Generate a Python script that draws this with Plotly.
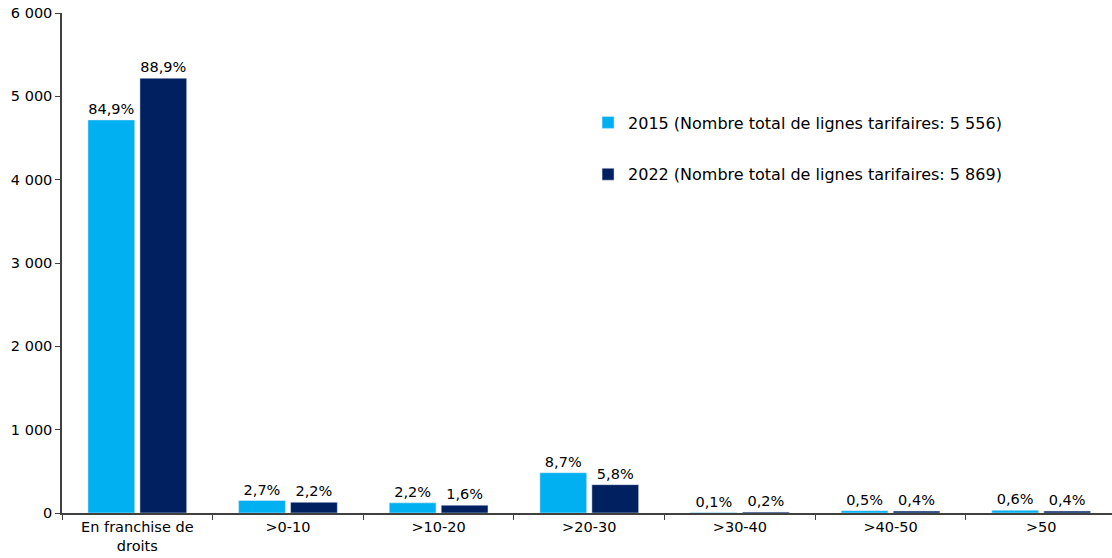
import plotly.graph_objects as go

categories = ["En franchise de<br>droits", ">0-10", ">10-20", ">20-30", ">30-40", ">40-50", ">50"]
series_names = ["2015 (Nombre total de lignes tarifaires: 5 556)",
                "2022 (Nombre total de lignes tarifaires: 5 869)"]
values_2015 = [4717, 150, 122, 483, 6, 28, 33]
values_2022 = [5218, 129, 94, 340, 12, 23, 23]
labels_2015 = ["84,9%", "2,7%", "2,2%", "8,7%", "0,1%", "0,5%", "0,6%"]
labels_2022 = ["88,9%", "2,2%", "1,6%", "5,8%", "0,2%", "0,4%", "0,4%"]
colors = ["#00B0F0", "#002060"]

FONT = "DejaVu Sans"
FS = 14.5

fig = go.Figure()
for name, vals, labs, col, grp in [
    (series_names[0], values_2015, labels_2015, colors[0], "a"),
    (series_names[1], values_2022, labels_2022, colors[1], "b"),
]:
    fig.add_trace(go.Bar(
        x=categories, y=vals, name=name, marker_color=col,
        text=labs, textposition="outside", cliponaxis=False,
        textfont=dict(family=FONT, size=FS, color="#000000"),
        legendgroup=grp,
    ))

fig.update_layout(
    width=1112, height=558,
    margin=dict(l=62, r=0, t=13, b=45),
    paper_bgcolor="white", plot_bgcolor="white",
    barmode="group", bargap=0.31, bargroupgap=0.1,
    separators=", ",
    font=dict(family=FONT, size=FS, color="#000000"),
    showlegend=True,
    legend=dict(x=0.501, y=0.815, xanchor="left", yanchor="top",
                bgcolor="rgba(0,0,0,0)", tracegroupgap=28,
                font=dict(family=FONT, size=16, color="#000000")),
)
fig.update_xaxes(
    range=[-0.5, 6.47], tickson="boundaries", ticks="outside", ticklen=5,
    tickcolor="#404040", showline=True, linecolor="#404040", linewidth=1.5,
    showgrid=False, tickfont=dict(family=FONT, size=FS), automargin=False,
)
fig.update_yaxes(
    range=[0, 6000], dtick=1000, tickformat=",d", ticks="outside", ticklen=5,
    tickcolor="#404040", showline=True, linecolor="#404040", linewidth=1.5,
    showgrid=False, zeroline=False, tickfont=dict(family=FONT, size=FS),
    automargin=False,
)

fig.write_html("out.html", config={"displayModeBar": False},
               post_script="document.body.style.margin='0';document.body.style.overflow='hidden';")
